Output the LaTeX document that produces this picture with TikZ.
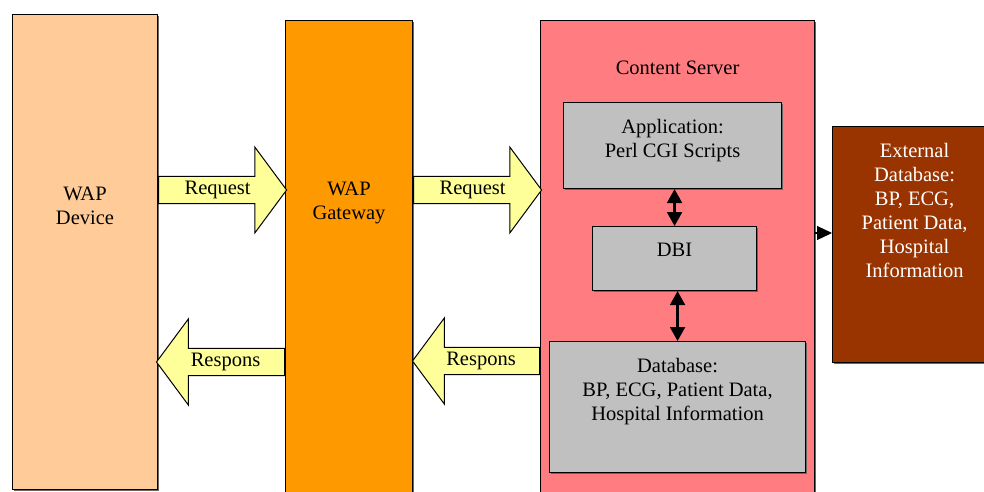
\documentclass[tikz,border=0pt]{standalone}
\usepackage{fontspec}
\setmainfont{Liberation Serif}
\usetikzlibrary{shapes.arrows, arrows.meta, positioning, calc, shadows}
\definecolor{devpeach}{HTML}{FFCC99}
\definecolor{gworange}{HTML}{FF9900}
\definecolor{srvpink}{HTML}{FF7C80}
\definecolor{boxgray}{HTML}{C0C0C0}
\definecolor{extbrown}{HTML}{993300}
\definecolor{arrowyellow}{HTML}{FFFF99}

\begin{document}
\begin{tikzpicture}[x=1pt, y=-1pt,
  block/.style={rectangle, draw=black, line width=1.1pt, anchor=north west, inner sep=0pt,
    drop shadow={shadow xshift=1.5pt, shadow yshift=-1.5pt, fill=black!60, opacity=1}},
  txt/.style={align=center, inner sep=0pt, font=\fontsize{20.5}{24}\selectfont},
  barrow/.style={single arrow, draw=black, line width=1pt, fill=arrowyellow, minimum width=86pt,
    single arrow head extend=20.5pt, single arrow tip angle=107, inner xsep=2pt, inner ysep=0pt,
    font=\fontsize{20.5}{24}\selectfont},
  dblarrow/.style={{Triangle[width=15pt,length=14pt]}-{Triangle[width=15pt,length=14pt]}, line width=2.2pt},
  sarrow/.style={-{Triangle[width=14pt,length=15pt]}, line width=1.2pt}
]
  \useasboundingbox (0,0) rectangle (984,491);

  % main blocks
  \node[block, fill=devpeach, minimum width=145pt, minimum height=475pt] (dev) at (12,14) {};
  \node[block, fill=gworange, minimum width=127pt, minimum height=490pt] (gw) at (285,20) {};
  \node[block, fill=srvpink, minimum width=274pt, minimum height=490pt] (srv) at (540,20) {};
  \node[block, fill=boxgray, minimum width=218pt, minimum height=86pt] (app) at (563,102) {};
  \node[block, fill=boxgray, minimum width=164pt, minimum height=64pt] (dbi) at (592,226) {};
  \node[block, fill=boxgray, minimum width=256pt, minimum height=131pt] (db) at (549,341) {};
  \node[block, fill=extbrown, minimum width=164pt, minimum height=236pt] (ext) at (832,126) {};

  % texts
  \node[txt] (devtxt) at (85,206) {WAP\\Device};
  \node[txt] (gwtxt) at (349,203) {WAP\\Gateway};
  \node[txt, below=41pt of srv.north] (srvtxt) {Content Server};
  \node[txt, below=17pt of app.north] (apptxt) {Application:\\Perl CGI Scripts};
  \node[txt, below=17pt of dbi.north] (dbitxt) {DBI};
  \node[txt, below=17pt of db.north] (dbtxt) {Database:\\BP, ECG, Patient Data,\\Hospital Information};
  \node[txt, text=white, below=17pt of ext.north] (exttxt) {External\\Database:\\BP, ECG,\\Patient Data,\\Hospital\\Information};

  % block arrows
  \node[barrow, anchor=tail, minimum height=128pt] (req1) at (dev.east |- 0,190) {Request};
  \node[barrow, anchor=tail, minimum height=128pt] (req2) at (gw.east |- 0,190) {Request};
  \node[barrow, shape border rotate=180, anchor=tail, minimum height=128pt] (res1) at (gw.west |- 0,362) {Respons};
  \node[barrow, shape border rotate=180, anchor=tail, minimum height=127pt] (res2) at (srv.west |- 0,361) {Respons};

  % connectors
  \draw[dblarrow] (dbi.north) -- (dbi.north |- app.south);
  \draw[dblarrow] (db.north) -- (db.north |- dbi.south);
  \draw[sarrow] (srv.east |- 0,233) -- (ext.west |- 0,233);
\end{tikzpicture}
\end{document}
